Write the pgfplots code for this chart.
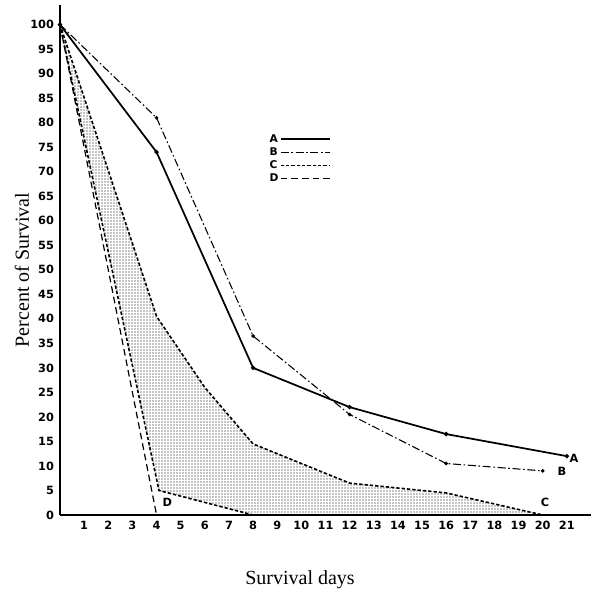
\documentclass[border=0pt]{standalone}
\usepackage{fontspec}
\setmainfont{Liberation Serif}
\setsansfont{DejaVu Sans}
\usepackage{pgfplots}
\pgfplotsset{compat=1.18}
\usetikzlibrary{patterns}
\pgfdeclarepatternformonly{finedots}{\pgfqpoint{-1pt}{-1pt}}{\pgfqpoint{1pt}{1pt}}{\pgfqpoint{2.25pt}{2.25pt}}{\pgfpathcircle{\pgfqpoint{0pt}{0pt}}{0.55pt}\pgfusepath{fill}}
\begin{document}
\begin{tikzpicture}
\begin{axis}[
  scale only axis, width=398.25pt, height=382.5pt,
  xmin=0, xmax=22, ymin=0, ymax=104,
  axis lines=left, axis line style={line width=1.6pt,-},
  xtick={1,...,21}, ytick={0,5,...,100},
  major tick length=0pt,
  tick label style={font=\sffamily\bfseries\fontsize{8.5}{9}\selectfont},
  /pgf/number format/assume math mode=true,
  yticklabel style={xshift=-1pt},
  xticklabel style={yshift=-1pt},
  xlabel={Survival days}, ylabel={Percent of Survival},
  label style={font=\fontsize{15}{17}\selectfont},
  xlabel style={at={(axis description cs:0.452,-0.127)}, anchor=center},
  ylabel style={at={(axis description cs:-0.0716,0.48)}, anchor=center},
  clip=false,
  legend style={draw=none, fill=none, at={(axis cs:8.45,78.5)}, anchor=north west,
    font=\sffamily\bfseries\fontsize{8}{8}\selectfont, row sep=0.5pt,
    nodes={inner sep=1pt}},
  legend cell align=left,
  legend plot pos=right,
  legend image code/.code={\draw[#1] (0pt,0pt) -- (37pt,0pt);},
]
% shaded band for C
\addplot[forget plot, draw=none, pattern=finedots, pattern color=black]
  coordinates {(0,100) (4,40.5) (6,26) (8,14.5) (12,6.5) (16,4.5) (20,0) (8,0) (4.1,5) (0,100)};
% lower boundary of C
\addplot[forget plot, line width=1.2pt, dash pattern=on 2.5pt off 1.5pt]
  coordinates {(0,100) (4.1,5) (8,0)};
% A
\addplot[line width=1.3pt, mark=*, mark size=0.9pt]
  coordinates {(0,100) (4,74) (8,30) (12,22) (16,16.5) (21,12)};
\addlegendentry{A}
% B
\addplot[line width=0.8pt, dash pattern=on 6pt off 2pt on 1.2pt off 2pt, mark=*, mark size=0.9pt, mark options={solid}]
  coordinates {(0,100) (4,81) (8,36.5) (12,20.5) (16,10.5) (20,9)};
\addlegendentry{B}
% C upper
\addplot[line width=1.2pt, dash pattern=on 2.5pt off 1.5pt]
  coordinates {(0,100) (4,40.5) (6,26) (8,14.5) (12,6.5) (16,4.5) (20,0)};
\addlegendentry{C}
% D
\addplot[line width=0.9pt, dash pattern=on 5pt off 3pt]
  coordinates {(0,100) (4,0)};
\addlegendentry{D}
\node[font=\sffamily\bfseries\fontsize{8.5}{9}\selectfont, anchor=west, inner sep=1pt] at (axis cs:21.05,11.6) {A};
\node[font=\sffamily\bfseries\fontsize{8.5}{9}\selectfont, anchor=west, inner sep=1pt] at (axis cs:20.55,8.8) {B};
\node[font=\sffamily\bfseries\fontsize{8.5}{9}\selectfont, inner sep=1pt] at (axis cs:20.1,2.5) {C};
\node[font=\sffamily\bfseries\fontsize{8.5}{9}\selectfont, inner sep=1pt] at (axis cs:4.45,2.5) {D};
\end{axis}
\pgfresetboundingbox
\path[use as bounding box] (-45pt,-58.5pt) rectangle (405.75pt,386.25pt);
\end{tikzpicture}
\end{document}
